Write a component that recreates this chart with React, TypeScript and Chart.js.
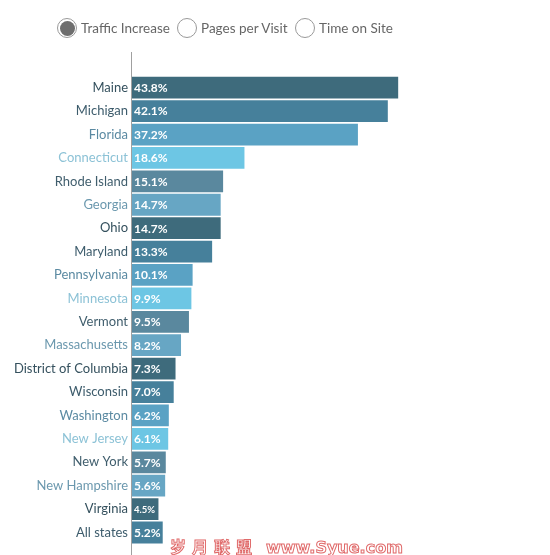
import React, { useEffect, useRef } from "react";
import { Chart, registerables } from "chart.js";

Chart.register(...registerables);

const categories = [
  "Maine", "Michigan", "Florida", "Connecticut", "Rhode Island", "Georgia", "Ohio",
  "Maryland", "Pennsylvania", "Minnesota", "Vermont", "Massachusetts",
  "District of Columbia", "Wisconsin", "Washington", "New Jersey", "New York",
  "New Hampshire", "Virginia", "All states",
];
const values = [43.8, 42.1, 37.2, 18.6, 15.1, 14.7, 14.7, 13.3, 10.1, 9.9, 9.5, 8.2, 7.3, 7.0, 6.2, 6.1, 5.7, 5.6, 4.5, 5.2];
const radioOptions = ["Traffic Increase", "Pages per Visit", "Time on Site"];

const barPalette = ["#3e6b7c", "#46809b", "#5aa2c4", "#6dc6e4", "#5a889e", "#67a6c4"];
const labelPalette = ["#34505d", "#3d5c6c", "#5b8aa2", "#8cc2d6", "#405e6d", "#6b98ae"];

const FONT = "Lato, 'Open Sans', sans-serif";

const valueLabels = {
  id: "valueLabels",
  afterDatasetsDraw(chart: any) {
    const ctx = chart.ctx;
    const meta = chart.getDatasetMeta(0);
    ctx.save();
    ctx.fillStyle = "#ffffff";
    ctx.textBaseline = "middle";
    ctx.textAlign = "left";
    meta.data.forEach((bar: any, i: number) => {
      const text = values[i].toFixed(1) + "%";
      const width = bar.x - bar.base;
      let size = 12;
      ctx.font = `bold ${size}px ${FONT}`;
      if (ctx.measureText(text).width + 3 > width) {
        size = 9.5;
        ctx.font = `bold ${size}px ${FONT}`;
      }
      ctx.fillText(text, bar.base + 3, bar.y + 0.5);
    });
    ctx.restore();
  },
};

const axisLine = {
  id: "axisLine",
  afterDraw(chart: any) {
    const ctx = chart.ctx;
    const x = Math.round(chart.chartArea.left) + 0.5;
    ctx.save();
    ctx.strokeStyle = "#a0a0a0";
    ctx.lineWidth = 1;
    ctx.beginPath();
    ctx.moveTo(x, chart.chartArea.top - 24);
    ctx.lineTo(x, chart.height);
    ctx.stroke();
    ctx.restore();
  },
};

export default function App() {
  const ref = useRef<HTMLCanvasElement>(null);
  useEffect(() => {
    if (!ref.current) return;
    const chart = new Chart(ref.current, {
      type: "bar",
      data: {
        labels: categories,
        datasets: [
          {
            data: values,
            backgroundColor: values.map((_, i) => barPalette[i % barPalette.length]),
            borderWidth: 0,
            barPercentage: 0.93,
            categoryPercentage: 1,
          },
        ],
      },
      options: {
        indexAxis: "y",
        animation: false,
        responsive: false,
        maintainAspectRatio: false,
        layout: { padding: { top: 76, bottom: 7, right: 114, left: 0 } },
        plugins: { legend: { display: false }, tooltip: { enabled: false } },
        scales: {
          x: { display: false, min: 0, max: 50 },
          y: {
            afterFit(scale: any) {
              scale.width = 131;
            },
            grid: { display: false, drawTicks: false },
            border: { display: false },
            ticks: {
              padding: 3,
              font: { family: FONT, size: 13 },
              color: (c: any) => labelPalette[c.index % labelPalette.length],
            },
          },
        },
      },
      plugins: [valueLabels, axisLine],
    });
    return () => chart.destroy();
  }, []);

  const radioX = [57, 177, 295];
  return (
    <div style={{ position: "fixed", left: 0, top: 0, width: 550, height: 555, background: "#fff", overflow: "hidden" }}>
      <canvas ref={ref} width={550} height={555} style={{ position: "absolute", left: 0, top: 0, width: 550, height: 555 }} />
      {radioOptions.map((label, i) => (
        <div
          key={label}
          style={{
            position: "absolute",
            left: radioX[i],
            top: 18,
            height: 20,
            display: "flex",
            alignItems: "center",
            fontFamily: FONT,
            fontSize: 13.5,
            color: "#666",
            whiteSpace: "nowrap",
          }}
        >
          <span
            style={{
              width: 20,
              height: 20,
              boxSizing: "border-box",
              borderRadius: "50%",
              border: "1px solid #999",
              display: "inline-flex",
              alignItems: "center",
              justifyContent: "center",
              marginRight: 4,
              background: "#fff",
            }}
          >
            {i === 0 && <span style={{ width: 15, height: 15, borderRadius: "50%", background: "#6e6e6e" }} />}
          </span>
          {label}
        </div>
      ))}
      <div
        style={{
          position: "absolute",
          left: 170,
          top: 534,
          fontFamily: "'Noto Sans CJK SC', sans-serif",
          fontSize: 16,
          fontWeight: "bold",
          color: "#fff",
          WebkitTextStroke: "1px #e06a6a",
          whiteSpace: "nowrap",
          letterSpacing: 6,
        }}
      >
        岁月联盟
        <span style={{ fontFamily: "'DejaVu Sans', sans-serif", letterSpacing: 0, marginLeft: 8 }}>www.Syue.com</span>
      </div>
    </div>
  );
}
